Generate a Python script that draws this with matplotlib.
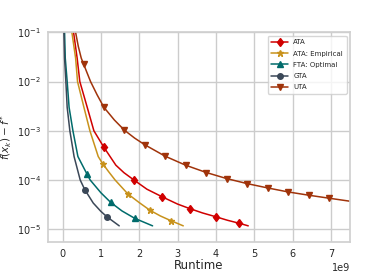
import numpy as np
import matplotlib
matplotlib.use("Agg")
import matplotlib.pyplot as plt
import seaborn as sns

sns.set_theme(style="whitegrid")
plt.rcParams['font.family'] = ['DejaVu Sans']

# runtime (x 1e9) and f(x_k) - f*
ata_x = [0.287, 0.38, 0.45, 0.643, 0.817, 1.078, 1.39, 1.6, 1.861, 2.2, 2.60, 3.0,
         3.313, 3.65, 4.009, 4.3, 4.609, 4.843]
ata_y = [1e-1, 3e-2, 1e-2, 3e-3, 1e-3, 4.62e-4, 2.0e-4, 1.41e-4, 1.0e-4, 6.5e-5, 4.54e-5,
         3.24e-5, 2.63e-5, 2.14e-5, 1.78e-5, 1.52e-5, 1.32e-5, 1.17e-5]
ata_mark_x = [1.078, 1.861, 2.60, 3.313, 4.009, 4.609]

emp_x = [0.243, 0.34, 0.39, 0.557, 0.713, 0.93, 1.045, 1.2, 1.37, 1.704, 2.0, 2.278,
         2.55, 2.817, 3.148]
emp_y = [1e-1, 3e-2, 1e-2, 3e-3, 1e-3, 3e-4, 2.15e-4, 1.48e-4, 1e-4, 5.2e-5, 3.47e-5,
         2.43e-5, 1.86e-5, 1.5e-5, 1.17e-5]
emp_mark_x = [1.045, 1.704, 2.278, 2.817]

fta_x = [0.052, 0.07, 0.12, 0.17, 0.27, 0.40, 0.63, 0.72, 1.0, 1.256, 1.55, 1.884, 2.348]
fta_y = [1e-1, 3e-2, 1e-2, 3e-3, 1e-3, 3e-4, 1.35e-4, 1e-4, 5.5e-5, 3.5e-5, 2.35e-5,
         1.66e-5, 1.17e-5]
fta_mark_x = [0.63, 1.256, 1.884]

gta_x = [0.035, 0.052, 0.086, 0.12, 0.19, 0.30, 0.46, 0.578, 0.8, 1.0, 1.16, 1.478]
gta_y = [1e-1, 3e-2, 1e-2, 3e-3, 1e-3, 3e-4, 1e-4, 6.4e-5, 3.4e-5, 2.3e-5, 1.78e-5, 1.17e-5]
gta_mark_x = [0.578, 1.16]

uta_x = [0.34, 0.41, 0.487, 0.548, 0.73, 0.9, 1.078, 1.35, 1.612, 1.88, 2.144, 2.674,
         3.209, 3.748, 4.278, 4.809, 5.348, 5.878, 6.426, 6.957, 7.5]
uta_y = [1e-1, 5.2e-2, 3e-2, 2.27e-2, 1e-2, 5.4e-3, 3.0e-3, 1.66e-3, 1.03e-3, 7.1e-4,
         5.2e-4, 3.05e-4, 2.0e-4, 1.42e-4, 1.07e-4, 8.46e-5, 6.9e-5, 5.73e-5, 4.9e-5,
         4.26e-5, 3.7e-5]
uta_mark_x = [0.548, 1.078, 1.612, 2.144, 2.674, 3.209, 3.748, 4.278, 4.809, 5.348,
              5.878, 6.426, 6.957]

series = [
    ("ATA", ata_x, ata_y, ata_mark_x, "#d00000", "d", 4.5),
    ("ATA: Empirical", emp_x, emp_y, emp_mark_x, "#c8921c", "*", 5),
    ("FTA: Optimal", fta_x, fta_y, fta_mark_x, "#006b6b", "^", 4.5),
    ("GTA", gta_x, gta_y, gta_mark_x, "#3b4858", "o", 4),
    ("UTA", uta_x, uta_y, uta_mark_x, "#a0330a", "v", 4.5),
]

fig = plt.figure(figsize=(3.89, 2.72), dpi=100)
ax = fig.add_axes([0.1234, 0.1103, 0.7766, 0.7707])

for name, xs, ys, mark_x, col, mk, ms in series:
    marks = [xs.index(m) for m in mark_x]
    ax.plot(np.array(xs) * 1e9, ys, color=col, marker=mk, markevery=marks,
            markersize=ms, linewidth=1.1, label=name)

ax.set_yscale("log")
ax.set_xlim(-0.38e9, 7.5e9)
ax.set_ylim(10 ** -5.26, 1e-1)
ax.set_xticks(np.arange(0, 8) * 1e9)
ax.minorticks_off()
ax.tick_params(axis="x", labelsize=7, length=0, pad=5)
ax.tick_params(axis="y", labelsize=7, length=0, pad=5)
ax.xaxis.get_offset_text().set_fontsize(7)
ax.set_xlabel("Runtime", fontsize=8.5, labelpad=0)
ax.set_ylabel(r"$f(x_k) - f^*$", fontsize=7.5, labelpad=2)
for s in ax.spines.values():
    s.set_color("#d0d0d0")
ax.legend(loc="upper right", fontsize=5, handlelength=2.4, borderpad=0.5,
          labelspacing=0.75)

fig.savefig("out.png", dpi=100)
